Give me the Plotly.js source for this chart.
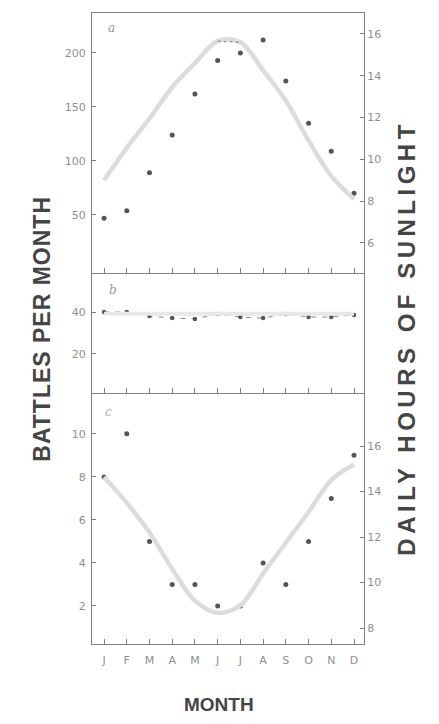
<!DOCTYPE html>
<html>
<head>
<meta charset="utf-8">
<script src="https://cdn.plot.ly/plotly-3.0.1.min.js"></script>
<style>
html,body{margin:0;padding:0;background:#fff;}
#chart{width:439px;height:724px;}
g.annotation[data-index="3"] text{letter-spacing:1px;}
g.annotation[data-index="4"] text{letter-spacing:4.5px;}
</style>
</head>
<body>
<div id="chart"></div>
<script>
// ---- data ----
const months = ['J','F','M','A','M','J','J','A','S','O','N','D'];
const monthIdx = [0,1,2,3,4,5,6,7,8,9,10,11];

// panel a
const battlesA = [47, 54, 89, 124, 162, 193, 200, 212, 174, 135, 109, 70];
const sunA = [9.0, 10.55, 11.95, 13.45, 14.6, 15.65, 15.6, 14.25, 12.8, 10.9, 9.2, 8.1];
// panel b
const battlesB = [40, 40, 38.1, 37.1, 36.7, 39.0, 37.6, 37.1, 39.0, 37.6, 37.6, 38.6];
const sunB = [12, 12, 12, 12, 12, 12, 12, 12, 12, 12, 12, 12];
// panel c
const battlesC = [8, 10, 5, 3, 3, 2, 2, 4, 3, 5, 7, 9];
const sunC = [14.64, 13.5, 12.2, 10.6, 9.2, 8.67, 9.0, 10.4, 11.75, 13.1, 14.5, 15.2];

const leftTicksA = [50, 100, 150, 200];
const leftTicksB = [20, 40];
const leftTicksC = [2, 4, 6, 8, 10];
const rightTicksA = [6, 8, 10, 12, 14, 16];
const rightTicksC = [8, 10, 12, 14, 16];

// ---- styles ----
const dotColor = '#555555';
const curveColor = '#dcdcdc';
const lineColor = '#808080';
const tickFont = {family: 'DejaVu Sans', size: 11, color: '#8f8f8f'};
const titleBase = {family: 'Liberation Sans', color: '#454545', weight: 'bold'};

const dot = {color: dotColor, size: 5};
const curve = {color: curveColor, width: 4.5, shape: 'spline', smoothing: 1};

const traces = [
  // panel a
  {x: monthIdx, y: sunA, xaxis: 'x3', yaxis: 'y6', mode: 'lines', line: curve, hoverinfo: 'skip'},
  {x: monthIdx.slice(5, 7), y: sunA.slice(5, 7), xaxis: 'x3', yaxis: 'y6', mode: 'lines',
   line: {color: '#8f8f8f', width: 1.2, dash: 'dot'}, hoverinfo: 'skip'},
  {x: monthIdx, y: battlesA, xaxis: 'x3', yaxis: 'y5', mode: 'markers', marker: dot},
  // panel b
  {x: monthIdx, y: sunB, xaxis: 'x2', yaxis: 'y4', mode: 'lines', line: {color: '#e8e8e8', width: 4}, hoverinfo: 'skip'},
  {x: monthIdx, y: battlesB, xaxis: 'x2', yaxis: 'y3', mode: 'lines+markers', marker: {color: dotColor, size: 4.5},
   line: {color: '#8a8a8a', width: 1, dash: '5px,6px'}},
  // panel c
  {x: monthIdx, y: sunC, xaxis: 'x', yaxis: 'y2', mode: 'lines', line: curve, hoverinfo: 'skip'},
  {x: monthIdx, y: battlesC, xaxis: 'x', yaxis: 'y', mode: 'markers', marker: dot}
];

const xr = [-0.53, 11.44];
const dC = [0, 0.3978], dB = [0.3978, 0.588], dA = [0.588, 1];

function xax(anchor, labels, mirror) {
  return {
    domain: [0, 1], anchor: anchor, range: xr, tickvals: monthIdx, ticktext: months,
    showticklabels: labels, ticks: 'inside', ticklen: 5, tickcolor: lineColor, tickwidth: 1,
    showline: true, linecolor: lineColor, linewidth: 1, mirror: mirror,
    showgrid: false, zeroline: false, tickfont: tickFont, ticklabelstandoff: 6, fixedrange: true
  };
}
function yax(domain, range, tickvals, side, extra) {
  return Object.assign({
    domain: domain, range: range, tickvals: tickvals, side: side,
    ticks: 'inside', ticklen: 4, tickcolor: lineColor, tickwidth: 1,
    showline: true, linecolor: lineColor, linewidth: 1,
    showgrid: false, zeroline: false, tickfont: tickFont, fixedrange: true
  }, extra || {});
}

const panelFont = {family: 'DejaVu Serif', size: 12, color: '#9a9a9a', style: 'italic'};

const layout = {
  width: 439, height: 724,
  margin: {l: 92, r: 75, t: 13, b: 80},
  paper_bgcolor: '#ffffff', plot_bgcolor: '#ffffff',
  showlegend: false,
  xaxis: xax('y', true, false),
  xaxis2: xax('y3', false, false),
  xaxis3: xax('y5', false, true),
  yaxis: yax(dC, [0.23, 11.9], leftTicksC, 'left', {anchor: 'x', ticklabelstandoff: 3}),
  yaxis2: yax(dC, [7.3, 18.33], rightTicksC, 'right', {anchor: 'x', overlaying: 'y'}),
  yaxis3: yax(dB, [1.4, 58.6], leftTicksB, 'left', {anchor: 'x2', mirror: true, ticklabelstandoff: 3}),
  yaxis4: {domain: dB, range: [0, 18.2], anchor: 'x2', overlaying: 'y3', side: 'right', visible: false, fixedrange: true},
  yaxis5: yax(dA, [-3.7, 237], leftTicksA, 'left', {anchor: 'x3', ticklabelstandoff: 3}),
  yaxis6: yax(dA, [4.56, 17.0], rightTicksA, 'right', {anchor: 'x3', overlaying: 'y5'}),
  annotations: [
    {text: 'a', xref: 'x3 domain', yref: 'y5 domain', x: 0.05, y: 0.975, showarrow: false, font: panelFont},
    {text: 'b', xref: 'x2 domain', yref: 'y3 domain', x: 0.055, y: 0.935, showarrow: false, font: panelFont},
    {text: 'c', xref: 'x domain', yref: 'y domain', x: 0.04, y: 0.962, showarrow: false,
     font: Object.assign({}, panelFont, {color: '#b0b0b0'})},
    {text: 'BATTLES PER MONTH', xref: 'paper', yref: 'paper', x: -0.24, y: 0.5, textangle: -90,
     showarrow: false, font: Object.assign({size: 23}, titleBase)},
    {text: 'DAILY HOURS OF SUNLIGHT', xref: 'paper', yref: 'paper', x: 1.215, y: 0.485, textangle: -90,
     showarrow: false, font: Object.assign({size: 24}, titleBase)},
    {text: 'MONTH', xref: 'paper', yref: 'paper', x: 0.468, y: -0.115, showarrow: false,
     font: Object.assign({size: 19}, titleBase)}
  ]
};

Plotly.newPlot('chart', traces, layout, {staticPlot: true, displayModeBar: false});
</script>
</body>
</html>
